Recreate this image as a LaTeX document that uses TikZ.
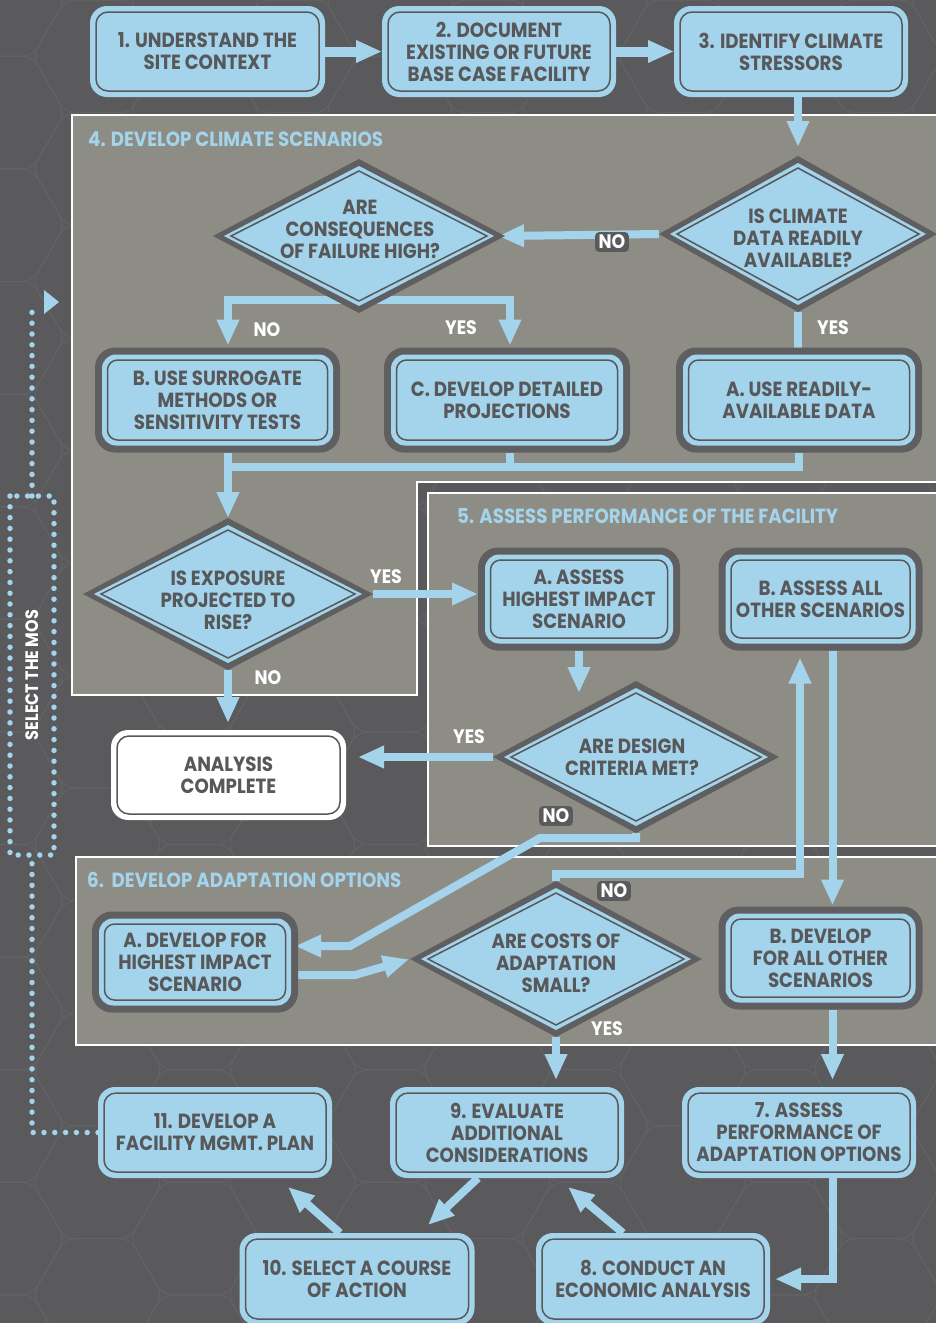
\documentclass[tikz,border=0pt]{standalone}
\usepackage{fontspec}
\setmainfont{Poppins}[FakeStretch=0.89]
\usetikzlibrary{shapes.geometric,arrows.meta,calc}
\pgfdeclarelayer{back}\pgfdeclarelayer{conn}\pgfdeclarelayer{front}
\pgfsetlayers{back,conn,main,front}
\definecolor{bg}{HTML}{5A5A5C}
\definecolor{hexc}{HTML}{626264}
\definecolor{pn}{HTML}{8E8D85}
\definecolor{lb}{HTML}{A3D4EB}
\definecolor{dk}{HTML}{5F5F61}
\definecolor{tx}{HTML}{58585A}
\newcommand\bxf{\fontsize{20.5}{22}\selectfont\bfseries}
\newcommand\lblf{\fontsize{19.5}{21}\selectfont\bfseries}
\newcommand\ttlf{\fontsize{20.5}{22}\selectfont\bfseries}
\tikzset{
  boxtext/.style={text=tx, align=center, font=\bxf, inner sep=0pt, outer sep=0pt, text depth=0pt},
  pbox/.style 2 args={boxtext, rectangle, rounded corners=20pt, fill=dk, minimum width=#1, minimum height=#2,
    path picture={
      \fill[lb, rounded corners=14pt] ([shift={(7pt,7pt)}]path picture bounding box.south west) rectangle ([shift={(-7pt,-7pt)}]path picture bounding box.north east);
      \draw[tx, line width=1.5pt, rounded corners=10pt] ([shift={(12.5pt,12.5pt)}]path picture bounding box.south west) rectangle ([shift={(-12.5pt,-12.5pt)}]path picture bounding box.north east);
    }},
  lbox/.style 2 args={boxtext, rectangle, rounded corners=17pt, fill=lb, minimum width=#1, minimum height=#2,
    path picture={
      \draw[tx, line width=1.5pt, rounded corners=12pt] ([shift={(6pt,6pt)}]path picture bounding box.south west) rectangle ([shift={(-6pt,-6pt)}]path picture bounding box.north east);
    }},
  wbox/.style 2 args={boxtext, rectangle, rounded corners=17pt, fill=white, minimum width=#1, minimum height=#2,
    path picture={
      \draw[tx, line width=1.5pt, rounded corners=12pt] ([shift={(6pt,6pt)}]path picture bounding box.south west) rectangle ([shift={(-6pt,-6pt)}]path picture bounding box.north east);
    }},
  dia/.style 2 args={diamond, fill=dk, minimum width=#1, minimum height=#2, inner sep=0pt, outer sep=0pt,
    path picture={
      \fill[lb] ([xshift=11pt]path picture bounding box.west) -- ([yshift=-7pt]path picture bounding box.north) -- ([xshift=-11pt]path picture bounding box.east) -- ([yshift=7pt]path picture bounding box.south) -- cycle;
      \draw[tx, line width=1.5pt] ([xshift=18pt]path picture bounding box.west) -- ([yshift=-12pt]path picture bounding box.north) -- ([xshift=-18pt]path picture bounding box.east) -- ([yshift=12pt]path picture bounding box.south) -- cycle;
    }},
  dtx/.style={boxtext},
  ttl/.style={text=lb, font=\ttlf, inner sep=0pt, anchor=west, text depth=0pt},
  wlab/.style={text=white, font=\lblf, inner sep=0pt, text depth=0pt},
  nolab/.style={fill=bg, text=white, font=\lblf, rounded corners=4pt, inner xsep=3.5pt, inner ysep=3pt, text depth=0pt},
  mos/.style={text=white, font=\fontsize{18}{20}\selectfont\bfseries, inner sep=0pt, text depth=0pt},
  ln/.style={draw=lb, line width=8pt},
  arr/.style={draw=lb, line width=8pt, -{Triangle[length=26pt,width=21pt]}},
  dots/.style={draw=lb, line width=5.5pt, line cap=round, dash pattern=on 0pt off 10.8pt},
  panel/.style={fill=pn, draw=white, line width=2pt},
  hexs/.style={draw=hexc, line width=1.2pt, rounded corners=10pt},
}
\begin{document}
\begin{tikzpicture}[x=1pt,y=-1pt]
\useasboundingbox (0,0) rectangle (936,1323);
\begin{pgfonlayer}{back}
  \fill[bg] (0,0) rectangle (936,1323);
  \foreach \i in {0,...,10}{
    \foreach \j in {-1,...,12}{
      \pgfmathsetmacro{\cx}{\i*97.5}
      \pgfmathsetmacro{\cy}{\j*112.6+mod(\i,2)*56.3}
      \draw[hexs] (\cx,\cy) ++(0:65) -- ++(120:65) -- ++(180:65) -- ++(240:65) -- ++(300:65) -- ++(0:65) -- cycle;
    }}
  \draw[panel] (72,115) -- (940,115) -- (940,482) -- (417,482) -- (417,695) -- (72,695) -- cycle;
  \draw[panel] (428,493) rectangle (940,846);
  \draw[panel] (76,857) rectangle (940,1045);
\end{pgfonlayer}

% titles
\node[ttl] (t4) at (88,139) {4. DEVELOP CLIMATE SCENARIOS};
\node[ttl] (t5) at (457,516) {5. ASSESS PERFORMANCE OF THE FACILITY};
\node[ttl] (t6) at (87,880) {6.\ \ DEVELOP ADAPTATION OPTIONS};

% top row
\node[lbox={235pt}{91pt}] (b1) at (207.5,51.5) {1. UNDERSTAND THE\\SITE CONTEXT};
\node[lbox={234pt}{91pt}] (b2) at (499,51.5) {2. DOCUMENT\\EXISTING OR FUTURE\\BASE CASE FACILITY};
\node[lbox={234pt}{91pt}] (b3) at (791,51.5) {3. IDENTIFY CLIMATE\\STRESSORS};

% panel 4
\node[dia={292pt}{154pt}] (dCons) at (359,236) {};
\node[dtx] (tCons) at (360,229) {ARE\\CONSEQUENCES\\OF FAILURE HIGH?};
\node[dia={278pt}{156pt}] (dClim) at (798,234) {};
\node[dtx] (tClim) at (798,238) {IS CLIMATE\\DATA READILY\\AVAILABLE?};
\node[pbox={245pt}{105pt}] (bB) at (217.5,400) {B. USE SURROGATE\\METHODS OR\\SENSITIVITY TESTS};
\node[pbox={246pt}{105pt}] (bC) at (507,400) {C. DEVELOP DETAILED\\PROJECTIONS};
\node[pbox={246pt}{105pt}] (bA4) at (799,400) {A. USE READILY-\\AVAILABLE DATA};
\node[dia={290pt}{152pt}] (dExp) at (228,594) {};
\node[dtx] (tExp) at (228,600) {IS EXPOSURE\\PROJECTED TO\\RISE?};
\node[wbox={235pt}{90pt}] (bAC) at (228.5,775) {ANALYSIS\\COMPLETE};

% panel 5
\node[pbox={202pt}{103pt}] (bA5) at (579,599) {A. ASSESS\\HIGHEST IMPACT\\SCENARIO};
\node[pbox={204pt}{103pt}] (bB5) at (820.5,599) {B. ASSESS ALL\\OTHER SCENARIOS};
\node[dia={286pt}{152pt}] (dDes) at (636,757) {};
\node[dtx] (tDes) at (632,757) {ARE DESIGN\\CRITERIA MET?};

% panel 6
\node[pbox={206pt}{101pt}] (bA6) at (195,962) {A. DEVELOP FOR\\HIGHEST IMPACT\\SCENARIO};
\node[dia={292pt}{156pt}] (dCost) at (556,959) {};
\node[dtx] (tCost) at (556,963) {ARE COSTS OF\\ADAPTATION\\SMALL?};
\node[pbox={204pt}{103pt}] (bB6) at (820.5,958) {B. DEVELOP\\FOR ALL OTHER\\SCENARIOS};

% bottom
\node[lbox={234pt}{91pt}] (b11) at (215,1132.5) {11. DEVELOP A\\FACILITY MGMT. PLAN};
\node[lbox={234pt}{91pt}] (b9) at (507,1132.5) {9. EVALUATE\\ADDITIONAL\\CONSIDERATIONS};
\node[lbox={234pt}{91pt}] (b7) at (799,1132.5) {7. ASSESS\\PERFORMANCE OF\\ADAPTATION OPTIONS};
\node[lbox={235pt}{92pt}] (b10) at (357,1279) {10. SELECT A COURSE\\OF ACTION};
\node[lbox={234pt}{92pt}] (b8) at (653,1279) {8. CONDUCT AN\\ECONOMIC ANALYSIS};

\coordinate (br) at (360,300);
\coordinate (jc) at (228,467);
\coordinate (p1) at (540,838);
\coordinate (p2) at (350,946);
\coordinate (q1) at (355,975);
\coordinate (j2) at (800,874);
\coordinate (m1) at (32,855);
\coordinate (m2) at (32,496);
\coordinate (m3) at (32,303);
\coordinate (r1) at (10,496);
\coordinate (r2) at (54,855);

\begin{pgfonlayer}{conn}
  \draw[arr, line width=10pt] (b1.east) -- (b2.west);
  \draw[arr, line width=10pt] (b2.east) -- (b3.west);
  \draw[arr, shorten >=9pt] (b3.south -| dClim.north) -- (dClim.north);
  \draw[arr, shorten >=-7pt] (dClim.west) -- (dCons.east);
  \draw[arr, shorten >=2pt] (br) -| ([xshift=10.5pt]bB.north);
  \draw[arr, shorten >=2pt] (br) -| ([xshift=3pt]bC.north);
  \draw[ln] (dClim.south) -- (dClim.south |- bA4.north);
  \draw[ln] (bA4.south) |- (jc);
  \draw[ln] ([xshift=3pt]bC.south) -- ([xshift=3pt]bC.south |- jc);
  \draw[arr] ([xshift=10.5pt]bB.south) -- ([xshift=10.5pt]bB.south |- dExp.north);
  \draw[arr] (dExp.east) -- (dExp.east -| bA5.west);
  \draw[arr, shorten >=7pt] (dExp.south) -- (dExp.south |- bAC.north);
  \draw[arr, shorten >=-12pt] (bA5.south) -- (bA5.south |- dDes.north);
  \draw[arr, shorten >=12pt] (dDes.west) -- (dDes.west -| bAC.east);
  \draw[arr, shorten >=-3pt] (dDes.south) |- (p1) -- (p2) -- (bA6.east |- p2);
  \draw[arr, shorten >=1pt] (bA6.east |- q1) -- (q1) -- (dCost.west);
  \draw[arr, shorten >=7pt] (dCost.north) |- (j2) -- ([xshift=-20.5pt]bB5.south);
  \draw[arr, shorten >=1pt] ([xshift=12pt]bB5.south) -- ([xshift=12pt]bB5.south |- bB6.north);
  \draw[arr, shorten >=7pt] (dCost.south) -- (dCost.south |- b9.north);
  \draw[arr, shorten >=7pt] ([xshift=12pt]bB6.south) -- ([xshift=12pt]bB6.south |- b7.north);
  \draw[arr, shorten >=5pt] ([xshift=34pt]b7.south) |- (b8.east);
  \draw[arr] ([xshift=-30pt]b8.north) -- ([xshift=61pt,yshift=-9pt]b9.south);
  \draw[arr] ([xshift=-29pt]b9.south) -- ([xshift=71pt,yshift=8pt]b10.north);
  \draw[arr] ([xshift=-17pt]b10.north) -- ([xshift=73pt,yshift=-9pt]b11.south);
  % select the MOS loop
  \draw[dots] (b11.west) -| (m1);
  \draw[dots] (r1) rectangle (r2);
  \draw[dots] (m2) -- (m3);
  \fill[lb] (44,290) -- (59,302) -- (44,314) -- cycle;
\end{pgfonlayer}

\node[mos, rotate=90] (mos) at (32,675) {SELECT THE MOS};

\begin{pgfonlayer}{front}
  \node[nolab] (n1) at (612,242) {NO};
  \node[nolab] (n3) at (556,816) {NO};
  \node[nolab] (n4) at (614,891) {NO};
  \node[wlab] (n0) at (267,330) {NO};
  \node[wlab] (y0) at (461,328) {YES};
  \node[wlab] (y9) at (833,328) {YES};
  \node[wlab] (y1) at (386,577) {YES};
  \node[wlab] (n2) at (268,678) {NO};
  \node[wlab] (y2) at (469,737) {YES};
  \node[wlab] (y3) at (607,1029) {YES};
\end{pgfonlayer}
\end{tikzpicture}
\end{document}
